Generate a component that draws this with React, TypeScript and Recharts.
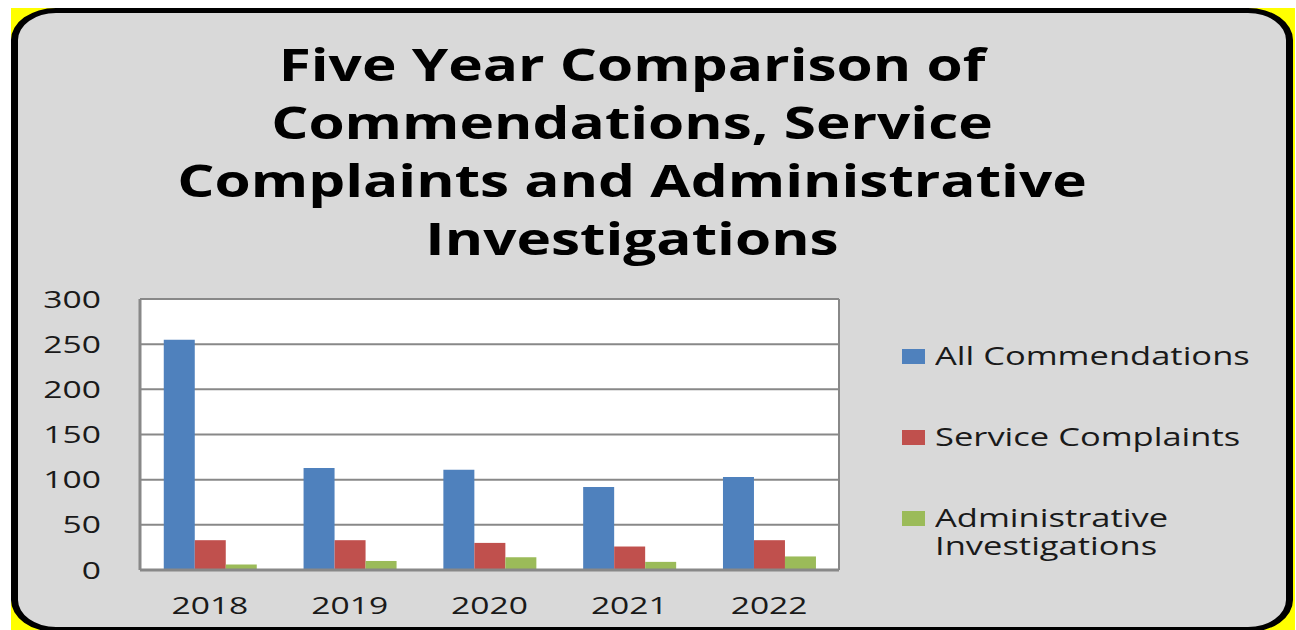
import { BarChart, Bar, XAxis, YAxis, CartesianGrid } from "recharts";

const YEARS = ["2018", "2019", "2020", "2021", "2022"];
const COMMENDATIONS = [255, 113, 111, 92, 103];
const SERVICE_COMPLAINTS = [33, 33, 30, 26, 33];
const ADMIN_INVESTIGATIONS = [6, 10, 14, 9, 15];
const Y_TICKS = [0, 50, 100, 150, 200, 250, 300];
const TITLE_LINES = [
  "Five Year Comparison of",
  "Commendations, Service",
  "Complaints and Administrative",
  "Investigations",
];

const SERIES = [
  { key: "commendations", name: "All Commendations", color: "#4f81bd" },
  { key: "complaints", name: "Service Complaints", color: "#c0504d" },
  { key: "investigations", name: "Administrative Investigations", color: "#9bbb59" },
];

const data = YEARS.map((year, i) => ({
  year,
  commendations: COMMENDATIONS[i],
  complaints: SERVICE_COMPLAINTS[i],
  investigations: ADMIN_INVESTIGATIONS[i],
}));

const FONT = "'Open Sans', sans-serif";
const STRETCH = 1.4;

function XTick({ x, y, payload }: any) {
  return (
    <text
      transform={`translate(${x},${y}) scale(${STRETCH},1)`}
      textAnchor="middle"
      dy="0.71em"
      fontFamily={FONT}
      fontSize={24}
      fill="#1a1a1a"
    >
      {payload.value}
    </text>
  );
}

function YTick({ x, y, payload }: any) {
  return (
    <text
      transform={`translate(${x},${y}) scale(${STRETCH},1)`}
      textAnchor="end"
      dy="0.355em"
      fontFamily={FONT}
      fontSize={24}
      fill="#1a1a1a"
    >
      {payload.value}
    </text>
  );
}

function ChartLegend() {
  return (
    <div style={{ position: "absolute", left: 902, top: 341, width: 380, fontFamily: FONT }}>
      {SERIES.map((s) => (
        <div key={s.key} style={{ position: "relative", height: 27, marginBottom: 54 }}>
          <div style={{ position: "absolute", left: 0, top: 8, width: 23, height: 15, background: s.color }} />
          <div
            style={{
              position: "absolute",
              left: 33,
              top: 0,
              width: 240,
              fontSize: 25,
              lineHeight: "28px",
              color: "#1a1a1a",
              transform: `scaleX(1.38)`,
              transformOrigin: "left top",
            }}
          >
            {s.name}
          </div>
        </div>
      ))}
    </div>
  );
}

export default function App() {
  return (
    <div style={{ position: "absolute", left: 0, top: 0, width: 1296, height: 630, background: "#fff", overflow: "hidden" }}>
      <div style={{ position: "absolute", left: 11, top: 8, width: 1284, height: 622, background: "#ffff00" }} />
      <div
        style={{
          position: "absolute",
          left: 11,
          top: 8,
          width: 1282,
          height: 624,
          boxSizing: "border-box",
          background: "#d9d9d9",
          borderStyle: "solid",
          borderColor: "#000",
          borderWidth: "5px 7px 5px 7px",
          borderRadius: "45px / 32px",
        }}
      />
      <div
        style={{
          position: "absolute",
          left: 0,
          top: 35,
          width: 1264,
          textAlign: "center",
          fontFamily: FONT,
          fontWeight: 700,
          fontSize: 45,
          lineHeight: "58px",
          color: "#000",
          transform: "scaleX(1.3)",
          transformOrigin: "632px 0",
        }}
      >
        {TITLE_LINES.map((line) => (
          <div key={line}>{line}</div>
        ))}
      </div>
      <div style={{ position: "absolute", left: 0, top: 0 }}>
        <BarChart
          width={1296}
          height={630}
          data={data}
          margin={{ top: 299, right: 457, bottom: 30, left: 0 }}
          barCategoryGap="17%"
          barGap={0}
        >
          <CartesianGrid
            vertical={true}
            fill="#ffffff"
            stroke="#888888"
            strokeWidth={2}
            verticalCoordinatesGenerator={({ offset }: any) => [offset.left, offset.left + offset.width]}
          />
          <XAxis
            dataKey="year"
            height={30}
            tickLine={false}
            axisLine={{ stroke: "#888888", strokeWidth: 3 }}
            tickMargin={21}
            tick={<XTick />}
            interval={0}
          />
          <YAxis
            width={140}
            domain={[0, 300]}
            ticks={Y_TICKS}
            tickLine={false}
            axisLine={{ stroke: "#888888", strokeWidth: 3 }}
            tickMargin={33}
            tick={<YTick />}
            interval={0}
          />
          {SERIES.map((s) => (
            <Bar key={s.key} dataKey={s.key} name={s.name} fill={s.color} isAnimationActive={false} />
          ))}
        </BarChart>
      </div>
      <ChartLegend />
    </div>
  );
}
